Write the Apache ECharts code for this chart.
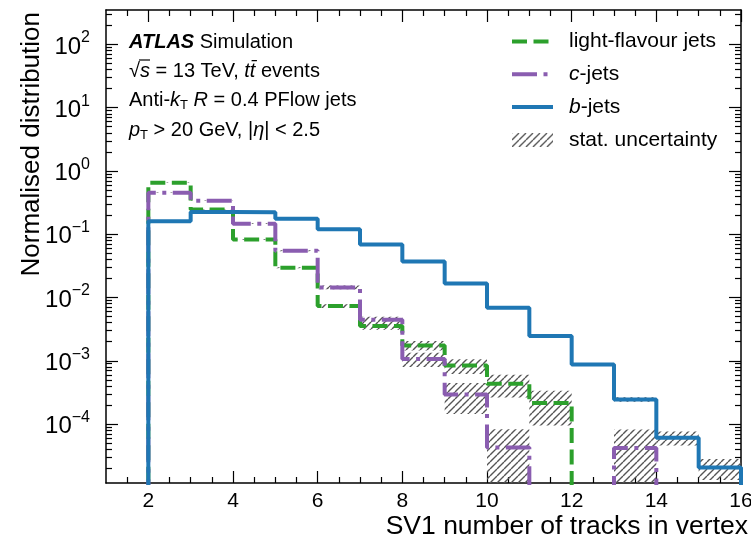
<!DOCTYPE html>
<html>
<head>
<meta charset="utf-8">
<script src="https://cdn.jsdelivr.net/npm/echarts@6/dist/echarts.min.js"></script>
<style>
  html, body { margin: 0; padding: 0; background: #fff; }
  #chart { width: 751px; height: 543px; }
</style>
</head>
<body>
<div id="chart"></div>
<script>
// SV1: number of tracks in the secondary vertex, one bin per track count
const binEdges = [2, 3, 4, 5, 6, 7, 8, 9, 10, 11, 12, 13, 14, 15, 16];

// Normalised bin contents and statistical uncertainties per jet flavour
const lightValues = [0.651, 0.246, 0.0828, 0.0296, 0.00731, 0.00353, 0.00175, 0.00084, 0.000432, 0.000215, 0, 0, 0, 0];
const lightErrors = [0.004, 0.002, 0.0012, 0.0006, 0.0005, 0.00045, 0.0003, 0.00022, 0.00017, 0.00012, 0, 0, 0, 0];

const cValues = [0.453, 0.338, 0.1466, 0.0549, 0.01445, 0.00446, 0.00107, 0.000294, 0.0000424, 0, 0, 0.000042, 0, 0];
const cErrors = [0.004, 0.003, 0.002, 0.001, 0.001, 0.0005, 0.00027, 0.00015, 0.00004, 0, 0, 0.00004, 0, 0];

const bValues = [0.161, 0.224, 0.222, 0.176, 0.120, 0.069, 0.0372, 0.0167, 0.0069, 0.00246, 0.000877, 0.000245, 0.000061, 0.0000205];
const bErrors = [0.001, 0.001, 0.001, 0.001, 0.0008, 0.0006, 0.0004, 0.00025, 0.00015, 0.00008, 0.00004, 0.00002, 0.000015, 0.0000075];

// Axis ticks
const xTickLabels = [2, 4, 6, 8, 10, 12, 14, 16];
const xMinorTicks = [1.5, 2.5, 3, 3.5, 4.5, 5, 5.5, 6.5, 7, 7.5, 8.5, 9, 9.5, 10.5, 11, 11.5, 12.5, 13, 13.5, 14.5, 15, 15.5];
const yTickLabels = [1e-4, 1e-3, 1e-2, 1e-1, 1, 10, 100];

const yMin = 1.17e-5;
const yMax = 350;
const xMin = 1;
const xMax = 16;

const FONT = '"Liberation Sans", Arial, Helvetica, sans-serif';
const colors = { light: '#2ca02c', c: '#8a5db0', b: '#1f77b4' };

// Log-axis minor ticks at 2..9 x 10^n
const yMinorTicks = [];
for (let e = -5; e <= 2; e++) {
  for (let m = 2; m <= 9; m++) {
    const v = m * Math.pow(10, e);
    if (v > yMin && v < yMax) yMinorTicks.push(v);
  }
}

// Diagonal hatch used for the uncertainty bands
function makeHatch() {
  const s = 7;
  const tile = document.createElement('canvas');
  tile.width = s; tile.height = s;
  const g = tile.getContext('2d');
  g.strokeStyle = '#555';
  g.lineWidth = 1.4;
  g.beginPath();
  for (const k of [-s, 0, s]) {
    g.moveTo(k, s);
    g.lineTo(k + s, 0);
  }
  g.stroke();
  return { image: tile, repeat: 'repeat' };
}
const hatch = makeHatch();

// Histogram outline as step points (empty bins fall below the axis floor)
function stepPoints(values) {
  const floor = yMin / 10;
  const pts = [[binEdges[0], floor]];
  values.forEach((v, i) => pts.push([binEdges[i], v > 0 ? v : floor]));
  const last = values[values.length - 1];
  pts.push([binEdges[binEdges.length - 1], last > 0 ? last : floor]);
  pts.push([binEdges[binEdges.length - 1], floor]);
  return pts;
}

// Uncertainty boxes [x0, x1, low, high]
function bandBoxes(values, errors) {
  const out = [];
  values.forEach((v, i) => {
    if (v > 0 && errors[i] > 0) {
      out.push([binEdges[i], binEdges[i + 1], Math.max(v - errors[i], yMin), Math.min(v + errors[i], yMax)]);
    }
  });
  return out;
}
const bands = [].concat(bandBoxes(lightValues, lightErrors), bandBoxes(cValues, cErrors), bandBoxes(bValues, bErrors));

function renderBand(params, api) {
  const p0 = api.coord([api.value(0), api.value(3)]);
  const p1 = api.coord([api.value(1), api.value(2)]);
  const cs = params.coordSys;
  const rect = echarts.graphic.clipRectByRect(
    { x: p0[0], y: p0[1], width: p1[0] - p0[0], height: p1[1] - p0[1] },
    { x: cs.x, y: cs.y, width: cs.width, height: cs.height }
  );
  return rect && { type: 'rect', shape: rect, style: { fill: hatch, stroke: null } };
}

function supLabel(v) {
  const e = Math.round(Math.log10(v));
  const s = e < 0 ? '\u2212' + (-e) : String(e);
  return '{b|10}{s|' + s + '}';
}

const axisBlack = { color: '#000', width: 1.5 };
function xAxisDef(position, major) {
  return {
    type: 'value', min: xMin, max: xMax, position: position, gridIndex: 0,
    axisLine: { show: major, onZero: false, lineStyle: axisBlack },
    axisTick: { show: true, inside: true, length: major ? 12 : 6,
      customValues: major ? xTickLabels : xMinorTicks, lineStyle: { color: '#000', width: 1.2 } },
    axisLabel: { show: major && position === 'bottom', customValues: xTickLabels,
      fontSize: 21, fontFamily: FONT, color: '#000', margin: 8 },
    splitLine: { show: false }, minorTick: { show: false }
  };
}
function yAxisDef(position, major) {
  return {
    type: 'log', logBase: 10, min: yMin, max: yMax, position: position, gridIndex: 0,
    axisLine: { show: major, onZero: false, lineStyle: axisBlack },
    axisTick: { show: true, inside: true, length: major ? 12 : 6,
      customValues: major ? yTickLabels : yMinorTicks, lineStyle: { color: '#000', width: 1.2 } },
    axisLabel: { show: major && position === 'left', customValues: yTickLabels,
      formatter: supLabel, margin: 16, color: '#000',
      rich: {
        b: { fontSize: 24, fontFamily: FONT, color: '#000', lineHeight: 29, verticalAlign: 'bottom' },
        s: { fontSize: 16, fontFamily: FONT, color: '#000', lineHeight: 16, verticalAlign: 'top' }
      } },
    splitLine: { show: false }, minorTick: { show: false }
  };
}

const richText = {
  n: { fontSize: 20, fontFamily: FONT, fill: '#000', color: '#000', lineHeight: 24 },
  i: { fontSize: 20, fontFamily: FONT, fontStyle: 'italic', fill: '#000', color: '#000', lineHeight: 24 },
  bi: { fontSize: 20, fontFamily: FONT, fontStyle: 'italic', fontWeight: 'bold', fill: '#000', color: '#000', lineHeight: 24 },
  sub: { fontSize: 13, fontFamily: FONT, fill: '#000', color: '#000', lineHeight: 12, verticalAlign: 'bottom' }
};
function infoLine(text, y) {
  return { type: 'text', x: 129, y: y, silent: true,
    style: { text: text, rich: richText, fontSize: 20, fontFamily: FONT, fill: '#000', verticalAlign: 'middle', align: 'left' } };
}

const lineLegendStyle = { itemStyle: { opacity: 0 } };

const chart = echarts.init(document.getElementById('chart'), null, { renderer: 'canvas' });
chart.setOption({
  animation: false,
  backgroundColor: '#fff',
  grid: { left: 106, right: 10, top: 10, bottom: 60, containLabel: false, outerBoundsMode: 'none' },
  xAxis: [xAxisDef('bottom', true), xAxisDef('bottom', false), xAxisDef('top', true), xAxisDef('top', false)],
  yAxis: [yAxisDef('left', true), yAxisDef('left', false), yAxisDef('right', true), yAxisDef('right', false)],
  legend: {
    orient: 'vertical', left: 505, top: 26, itemWidth: 41, itemHeight: 14, itemGap: 11.8,
    selectedMode: false,
    lineStyle: { width: 4 },
    data: [
      Object.assign({ name: 'light-flavour jets' }, lineLegendStyle),
      Object.assign({ name: 'c-jets' }, lineLegendStyle),
      Object.assign({ name: 'b-jets' }, lineLegendStyle),
      { name: 'stat. uncertainty', icon: 'rect', itemStyle: { color: hatch, borderWidth: 0, opacity: 1 } }
    ],
    formatter: function (name) {
      if (name === 'c-jets') return '{i|c}{n|-jets}';
      if (name === 'b-jets') return '{i|b}{n|-jets}';
      return '{n|' + name + '}';
    },
    textStyle: {
      fontSize: 21, fontFamily: FONT, color: '#000', lineHeight: 14, padding: [0, 0, 0, 11],
      rich: {
        n: { fontSize: 21, fontFamily: FONT, color: '#000', lineHeight: 14 },
        i: { fontSize: 21, fontFamily: FONT, color: '#000', fontStyle: 'italic', lineHeight: 14 }
      }
    }
  },
  graphic: [
    infoLine('{bi|ATLAS}{n| Simulation}', 42),
    infoLine('{n|\u221A}{i|s}{n| = 13 TeV, }{i|tt\u0304}{n| events}', 71),
    infoLine('{n|Anti-}{i|k}{sub|T}{n| }{i|R}{n| = 0.4 PFlow jets}', 100),
    infoLine('{i|p}{sub|T}{n| > 20 GeV, |}{i|\u03B7}{n|| < 2.5}', 130),
    { type: 'line', silent: true, shape: { x1: 139, y1: 60, x2: 150, y2: 60 }, style: { stroke: '#000', lineWidth: 1.2 } },
    { type: 'text', x: 32, y: 12, rotation: Math.PI / 2, silent: true,
      style: { text: 'Normalised distribution', fontSize: 26, fontFamily: FONT, fill: '#000', align: 'right', verticalAlign: 'middle' } },
    { type: 'text', x: 748, y: 527, silent: true,
      style: { text: 'SV1 number of tracks in vertex', fontSize: 26.5, fontFamily: FONT, fill: '#000', align: 'right', verticalAlign: 'middle' } }
  ],
  series: [
    { name: 'stat. uncertainty', type: 'custom', xAxisIndex: 0, yAxisIndex: 0, z: 1,
      itemStyle: { color: hatch }, encode: { x: [0, 1], y: [2, 3] }, renderItem: renderBand, data: bands },
    { name: 'light-flavour jets', type: 'line', xAxisIndex: 0, yAxisIndex: 0, z: 3, step: 'end',
      symbol: 'none', showSymbol: false, clip: true, color: colors.light,
      lineStyle: { color: colors.light, width: 4, type: [15, 6.5], cap: 'butt' }, data: stepPoints(lightValues) },
    { name: 'c-jets', type: 'line', xAxisIndex: 0, yAxisIndex: 0, z: 4, step: 'end',
      symbol: 'none', showSymbol: false, clip: true, color: colors.c,
      lineStyle: { color: colors.c, width: 4, type: [25, 6.5, 4, 6.5], cap: 'butt' }, data: stepPoints(cValues) },
    { name: 'b-jets', type: 'line', xAxisIndex: 0, yAxisIndex: 0, z: 5, step: 'end',
      symbol: 'none', showSymbol: false, clip: true, color: colors.b,
      lineStyle: { color: colors.b, width: 4, type: 'solid' }, data: stepPoints(bValues) }
  ]
});
</script>
</body>
</html>
